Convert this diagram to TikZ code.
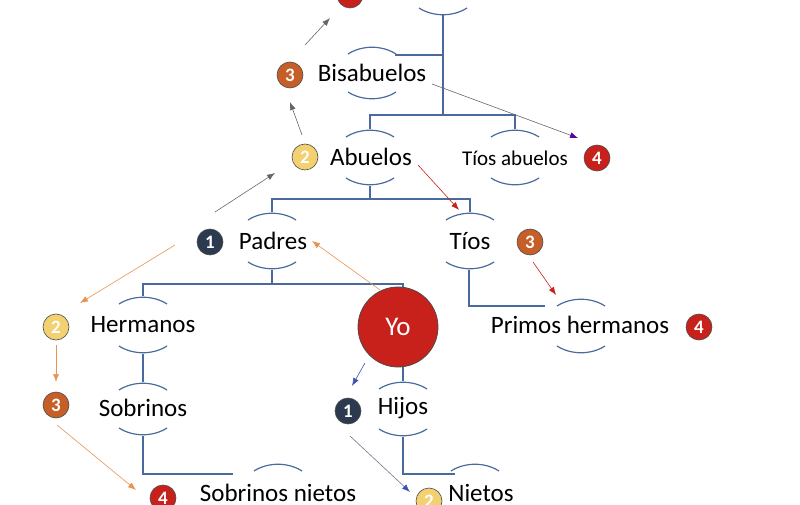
\documentclass[tikz,border=0pt]{standalone}
\usepackage{fontspec}
\setmainfont{Carlito}
\begin{document}
\begin{tikzpicture}[x=1pt,y=-1pt,
  ln/.style={draw=lb,line width=1.2pt},
  lbl/.style={font=\fontsize{25}{28}\selectfont,inner sep=1pt},
  bdg/.style={circle,draw=black!70,line width=0.6pt,minimum size=26pt,inner sep=0pt,text=white,font=\fontsize{19}{20}\selectfont\bfseries},
  ar/.style={-{Latex[length=8pt,width=6pt]},line width=0.6pt}]
\usetikzlibrary{arrows.meta}
\definecolor{lb}{HTML}{4A6A9E}
\definecolor{cy}{HTML}{F3D170}
\definecolor{co}{HTML}{C65E27}
\definecolor{cd}{HTML}{2B3A4E}
\definecolor{cr}{HTML}{C8201A}
\definecolor{ca}{HTML}{E8934F}
\useasboundingbox (0,0) rectangle (800,505);
\tikzset{
  top/.pic={\draw[lb,line width=1.2pt] (-24,4) .. controls (-10,-5) and (10,-5) .. (24,4);},
  bot/.pic={\draw[lb,line width=1.2pt] (-24,-4) .. controls (-10,5) and (10,5) .. (24,-4);}}
% brackets
\pic at (443,12) {bot};
\pic at (372,50) {top}; \pic at (372,96) {bot};
\pic at (370,133) {top}; \pic at (370,182) {bot};
\pic at (515,133) {top}; \pic at (515,182) {bot};
\pic at (272,216) {top}; \pic at (272,266) {bot};
\pic at (470,216) {top}; \pic at (470,266) {bot};
\pic at (143,300) {top}; \pic at (143,350) {bot};
\pic at (143,386) {top}; \pic at (143,432) {bot};
\pic at (403,385) {top}; \pic at (403,433) {bot};
\pic at (581,302) {top}; \pic at (581,350) {bot};
\pic at (278,467) {top};
\pic at (475,467) {top};
% tree lines
\draw[ln] (443,15) -- (443,115);
\draw[ln] (395,55) -- (443,55);
\draw[ln] (370,129) -- (370,115) -- (515,115) -- (515,129);
\draw[ln] (370,186) -- (370,199);
\draw[ln] (272,212) -- (272,199) -- (470,199) -- (470,212);
\draw[ln] (272,270) -- (272,284);
\draw[ln] (143,296) -- (143,284) -- (403,284) -- (403,290);
\draw[ln] (143,354) -- (143,382);
\draw[ln] (403,366) -- (403,381);
\draw[ln] (143,436) -- (143,474) -- (233,474);
\draw[ln] (403,437) -- (403,474) -- (455,474);
\draw[ln] (469,270) -- (469,306) -- (545,306);
% labels
\node[lbl] (bis) at (372,73) {Bisabuelos};
\node[lbl] (abu) at (371,157) {Abuelos};
\node[lbl,font=\fontsize{21}{24}\selectfont] (tab) at (515,158) {Tíos abuelos};
\node[lbl] (pad) at (273,241) {Padres};
\node[lbl] (tio) at (470,241) {Tíos};
\node[lbl] (her) at (143,325) {Hermanos};
\node[lbl] (sob) at (143,408) {Sobrinos};
\node[lbl] (hij) at (403,408) {Hijos};
\node[lbl] (pri) at (580,325) {Primos hermanos};
\node[lbl] (sn) at (278,493) {Sobrinos nietos};
\node[lbl] (nie) at (481,493) {Nietos};
\node[circle,fill=cr,draw=black!70,line width=0.8pt,minimum size=80pt,text=white,font=\fontsize{27}{30}\selectfont] (yo) at (398,327) {Yo};
% badges
\node[bdg,fill=cr] (b0) at (350,-5) {};
\node[bdg,fill=co] (b3a) at (290,75) {3};
\node[bdg,fill=cy] (b2a) at (305,157) {2};
\node[bdg,fill=cd] (b1a) at (210,242) {1};
\node[bdg,fill=co] (b3b) at (530,242) {3};
\node[bdg,fill=cr] (b4a) at (597,158) {4};
\node[bdg,fill=cr] (b4b) at (699,327) {4};
\node[bdg,fill=cy] (b2b) at (56,327) {2};
\node[bdg,fill=co] (b3c) at (56,405) {3};
\node[bdg,fill=cd] (b1b) at (348,411) {1};
\node[bdg,fill=cr] (b4c) at (163,498) {4};
\node[bdg,fill=cy] (b2c) at (429,501) {2};
% coordinates for arrows
\coordinate (a1s) at (305,45); \coordinate (a1e) at (330,18);
\coordinate (a2s) at (302,135); \coordinate (a2e) at (290,102);
\coordinate (a3s) at (215,212); \coordinate (a3e) at (275,173);
\coordinate (a4s) at (432,84); \coordinate (a4e) at (578,138);
\coordinate (a5s) at (418,165); \coordinate (a5e) at (459,210);
\coordinate (a6s) at (533,262); \coordinate (a6e) at (556,295);
\coordinate (a7s) at (380,290); \coordinate (a7e) at (312,241);
\coordinate (a8s) at (175,245); \coordinate (a8e) at (80,303);
\coordinate (a9s) at (56,345); \coordinate (a9e) at (56,382);
\coordinate (a10s) at (57,425); \coordinate (a10e) at (136,490);
\coordinate (a11s) at (365,363); \coordinate (a11e) at (352,386);
\coordinate (a12s) at (350,436); \coordinate (a12e) at (410,492);
\draw[ar,gray!80!black] (a1s) -- (a1e);
\draw[ar,gray!80!black] (a2s) -- (a2e);
\draw[ar,gray!80!black] (a3s) -- (a3e);
\draw[line width=0.6pt,gray!80!black,-{Latex[length=8pt,width=6pt,fill=violet!70!blue,color=violet!70!blue]}] (a4s) -- (a4e);
\draw[ar,cr] (a5s) -- (a5e);
\draw[ar,cr] (a6s) -- (a6e);
\draw[ar,ca] (a7s) -- (a7e);
\draw[ar,ca] (a8s) -- (a8e);
\draw[ar,ca] (a9s) -- (a9e);
\draw[ar,ca] (a10s) -- (a10e);
\draw[ar,lb!80!blue] (a11s) -- (a11e);
\draw[line width=0.6pt,gray!60!lb,-{Latex[length=8pt,width=6pt,color=lb!80!blue]}] (a12s) -- (a12e);
\end{tikzpicture}
\end{document}
